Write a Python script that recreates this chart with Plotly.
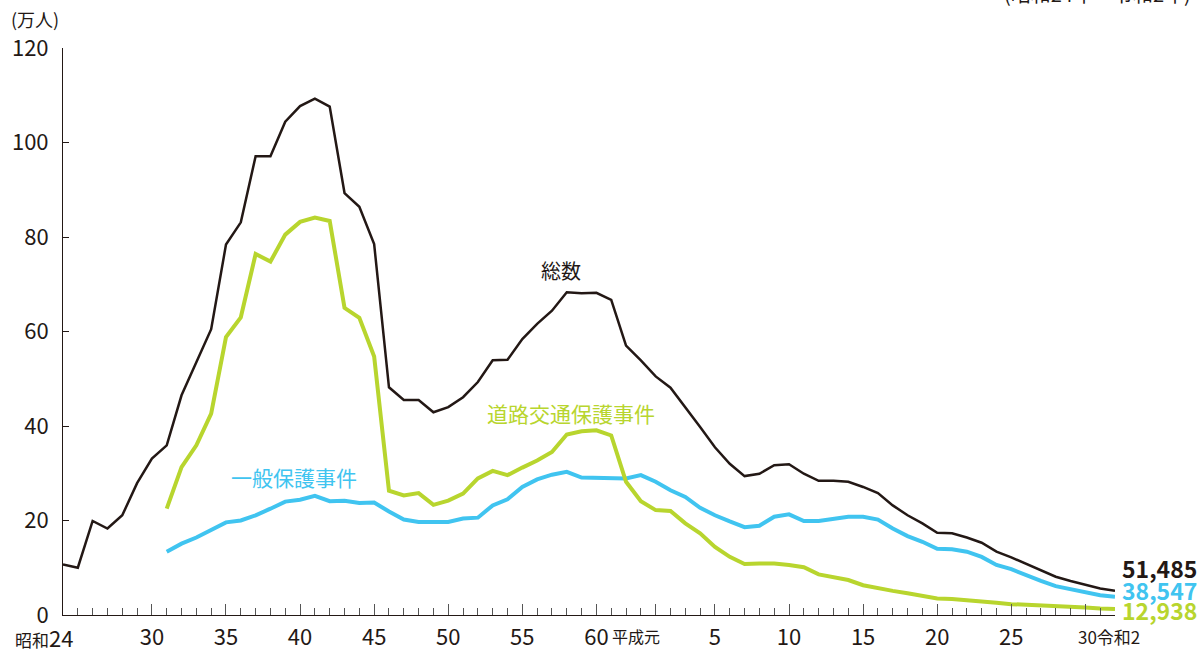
import plotly.graph_objects as go

# 昭和24年(1949)～令和2年(2020)
years = list(range(1949, 2021))
years_sub = list(range(1956, 2021))

# 総数（万人）
total = [
    10.7, 10.0, 19.9, 18.3, 21.1, 27.9, 33.1, 35.9, 46.5, 53.5,
    60.5, 78.4, 83.1, 97.1, 97.1, 104.4, 107.7, 109.3, 107.6, 89.3,
    86.4, 78.5, 48.2, 45.5, 45.5, 42.9, 44.0, 46.1, 49.3, 53.9,
    54.0, 58.4, 61.6, 64.4, 68.3, 68.1, 68.2, 66.7, 57.0, 53.9,
    50.5, 48.1, 44.0, 39.8, 35.5, 32.0, 29.4, 29.9, 31.7, 31.9,
    29.9, 28.4, 28.4, 28.2, 27.1, 25.8, 23.2, 21.1, 19.4, 17.4,
    17.3, 16.4, 15.3, 13.4, 12.2, 10.8, 9.4, 8.1, 7.2, 6.4,
    5.6, 5.1485,
]

# 一般保護事件（昭和31年～）
general = [
    13.4, 15.1, 16.4, 18.0, 19.6, 20.0, 21.1, 22.5, 24.0, 24.4,
    25.2, 24.1, 24.2, 23.7, 23.8, 21.9, 20.2, 19.7, 19.6, 19.7,
    20.4, 20.6, 23.2, 24.5, 27.1, 28.7, 29.7, 30.3, 29.1, 29.0,
    28.8, 28.9, 29.6, 28.2, 26.4, 25.0, 22.7, 21.1, 19.8, 18.6,
    18.9, 20.8, 21.3, 19.9, 19.9, 20.4, 20.8, 20.8, 20.2, 18.3,
    16.7, 15.5, 14.0, 13.9, 13.4, 12.3, 10.6, 9.7, 8.4, 7.2,
    6.1, 5.4, 4.9, 4.2, 3.8547,
]

# 道路交通保護事件（昭和31年～）
traffic = [
    22.5, 31.3, 35.9, 42.6, 58.8, 63.0, 76.4, 74.8, 80.5, 83.2,
    84.1, 83.4, 65.0, 62.9, 54.7, 26.3, 25.3, 25.8, 23.3, 24.2,
    25.7, 28.9, 30.5, 29.6, 31.2, 32.7, 34.5, 38.2, 38.9, 39.1,
    38.0, 28.2, 24.1, 22.2, 22.0, 19.4, 17.3, 14.4, 12.3, 10.8,
    10.9, 10.9, 10.6, 10.1, 8.6, 8.1, 7.4, 6.3, 5.6, 5.1,
    4.6, 4.0, 3.5, 3.4, 3.2, 2.8, 2.6, 2.3, 2.2, 2.0,
    1.9, 1.75, 1.6, 1.4, 1.2938,
]

end_labels = ["51,485", "38,547", "12,938"]

major_ticks = [1955, 1960, 1965, 1970, 1975, 1980, 1985, 1989,
               1993, 1998, 2003, 2008, 2013, 2018]
major_text = ["30", "35", "40", "45", "50", "55", "60", "",
              "5", "10", "15", "20", "25", ""]

FONT = "Noto Sans CJK JP"
DARK = "#231815"
BLUE = "#40c4f0"
GREEN = "#b8d52e"

fig = go.Figure()

fig.add_trace(go.Scatter(x=years, y=total, mode="lines",
                         line=dict(color=DARK, width=2.5)))
fig.add_trace(go.Scatter(x=years_sub, y=general, mode="lines",
                         line=dict(color=BLUE, width=4)))
fig.add_trace(go.Scatter(x=years_sub, y=traffic, mode="lines",
                         line=dict(color=GREEN, width=4)))

annotations = [
    dict(x=0, y=1, xref="paper", yref="paper", xanchor="center", yanchor="middle",
         text="(万人)", showarrow=False, xshift=-28, yshift=29,
         font=dict(size=18, color=DARK)),
    dict(x=1, y=1, xref="paper", yref="paper", xanchor="right", yanchor="middle",
         text="(昭和24年～令和2年)", showarrow=False, xshift=78, yshift=55,
         font=dict(size=20, color=DARK)),
    dict(x=1982.6, y=73, text="総数", showarrow=False,
         font=dict(size=20, color=DARK)),
    dict(x=1983.3, y=42.8, text="道路交通保護事件", showarrow=False,
         font=dict(size=21, color=GREEN)),
    dict(x=1964.6, y=29.3, text="一般保護事件", showarrow=False,
         font=dict(size=21, color=BLUE)),
    # 特殊な目盛ラベル
    dict(x=1949, y=0, yref="paper", xanchor="right", yanchor="top",
         text="<span style='font-size:17px'>昭和</span>24", showarrow=False,
         xshift=12, yshift=-4, font=dict(size=22, color=DARK)),
    dict(x=1989, y=0, yref="paper", xanchor="right", yanchor="top",
         text="平成元", showarrow=False, xshift=6, yshift=-7,
         font=dict(size=16, color=DARK)),
    dict(x=2018, y=0, yref="paper", xanchor="left", yanchor="top",
         text="30令和2", showarrow=False, xshift=-9, yshift=-7,
         font=dict(size=17, color=DARK)),
]

# 令和2年の値
for val, lab, col, ys in zip([total[-1], general[-1], traffic[-1]], end_labels,
                             [DARK, BLUE, GREEN], [23, 7, -1]):
    annotations.append(dict(x=2020, y=val, text="<b>" + lab + "</b>", showarrow=False,
                            xanchor="left", yanchor="middle", xshift=5, yshift=ys,
                            font=dict(size=23, color=col)))

fig.update_layout(
    width=1200, height=651,
    margin=dict(l=63, r=85, t=48, b=36),
    paper_bgcolor="white", plot_bgcolor="white",
    showlegend=False,
    font=dict(family=FONT, color=DARK),
    annotations=annotations,
    xaxis=dict(
        range=[1949, 2020], showgrid=False, zeroline=False, automargin=False,
        showline=True, linecolor=DARK, linewidth=1,
        tickmode="array", tickvals=major_ticks, ticktext=major_text,
        ticks="inside", ticklen=11, tickcolor="#555555", tickwidth=1,
        ticklabelstandoff=3,
        tickfont=dict(size=22, color=DARK),
        minor=dict(ticks="inside", ticklen=7, tickcolor="#555555",
                   dtick=1, tick0=1949, showgrid=False),
    ),
    yaxis=dict(
        range=[0, 120], showgrid=False, zeroline=False, automargin=False,
        showline=True, linecolor=DARK, linewidth=1,
        tickvals=[0, 20, 40, 60, 80, 100, 120],
        ticks="inside", ticklen=6, tickcolor=DARK,
        ticklabelstandoff=9,
        tickfont=dict(size=22, color=DARK),
    ),
)

# ページ余白をなくして 1200x651 にぴったり収める
fig.write_html("out.html", config={"displayModeBar": False},
               post_script="document.body.style.margin='0';")
